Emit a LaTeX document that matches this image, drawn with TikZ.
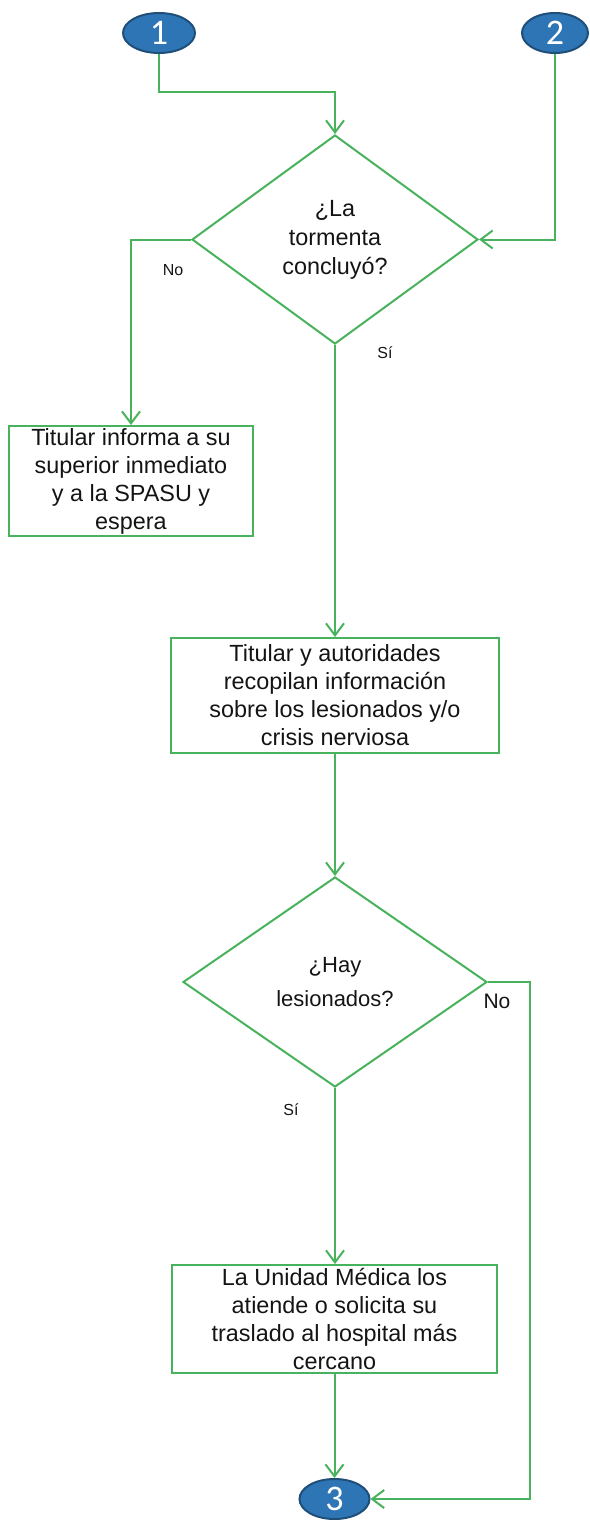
\documentclass[tikz,border=0pt]{standalone}
\usepackage{fontspec}
\setmainfont{Liberation Sans}
\newfontfamily\numfont{Carlito}
\usetikzlibrary{shapes.geometric,arrows.meta}
\definecolor{flowgreen}{RGB}{72,178,92}
\definecolor{ovalblue}{RGB}{46,117,182}
\definecolor{ovaledge}{RGB}{31,78,121}
\definecolor{txt}{RGB}{20,20,20}
\tikzset{
  conn/.style={draw=flowgreen, line width=2pt, -{Straight Barb[length=12pt,width=18pt,line width=2pt]}},
  oval/.style={ellipse, fill=ovalblue, draw=ovaledge, line width=2pt, inner sep=0pt,
    text=white, font=\numfont\fontsize{36}{36}\selectfont},
  procbox/.style={rectangle, draw=flowgreen, line width=2pt, inner sep=0pt, align=center,
    text=txt, font=\fontsize{23.4}{28}\selectfont},
  decision/.style={diamond, draw=flowgreen, line width=2pt, inner sep=0pt, align=center,
    text=txt, font=\fontsize{23.4}{29}\selectfont},
  lbl/.style={text=txt, inner sep=0pt, font=\fontsize{16}{16}\selectfont},
}
\begin{document}
\begin{tikzpicture}[x=1pt,y=-1pt]
\useasboundingbox (0,0) rectangle (589,1520);
% terminals
\node[oval, minimum width=72pt, minimum height=40pt] (o1) at (159,33) {1};
\node[oval, minimum width=66pt, minimum height=40pt] (o2) at (555,33) {2};
\node[oval, minimum width=70pt, minimum height=40pt] (o3) at (334.5,1499) {3};
% decisions
\node[decision, minimum width=286pt, minimum height=209pt] (d1) at (335,239.5) {¿La\\tormenta\\concluyó?};
\node[decision, minimum width=304pt, minimum height=210pt, font=\fontsize{22}{34}\selectfont] (d2) at (335,982) {¿Hay\\lesionados?};
% process boxes
\node[procbox, minimum width=244pt, minimum height=110pt] (b1) at (131,481) {Titular informa a su\\superior inmediato\\y a la SPASU y\\espera};
\node[procbox, minimum width=328pt, minimum height=115pt] (b2) at (335,695.5) {Titular y autoridades\\recopilan información\\sobre los lesionados y/o\\crisis nerviosa};
\node[procbox, minimum width=325pt, minimum height=108pt] (b3) at (334.5,1319) {La Unidad Médica los\\atiende o solicita su\\traslado al hospital más\\cercano};
% labels
\node[lbl] (lno1) at (173,270) {No};
\node[lbl] (lsi1) at (385,353) {Sí};
\node[lbl, font=\fontsize{21}{21}\selectfont] (lno2) at (497,1001) {No};
\node[lbl] (lsi2) at (291,1110) {Sí};
% connectors
\draw[conn] (o1.south) |- ([yshift=42pt]d1.north) -- (d1.north);
\draw[conn] (o2.south) |- (d1.east);
\draw[conn] (d1.west) -| (b1.north);
\draw[conn] (d1.south) -- (d1.south |- b2.north);
\draw[conn] (b2.south) -- (b2.south |- d2.north);
\draw[conn] (d2.south) -- (d2.south |- b3.north);
\draw[conn] (b3.south) -- (o3.north);
\draw[conn] (d2.east) -- ++(42,0) |- (o3.east);
\end{tikzpicture}
\end{document}
